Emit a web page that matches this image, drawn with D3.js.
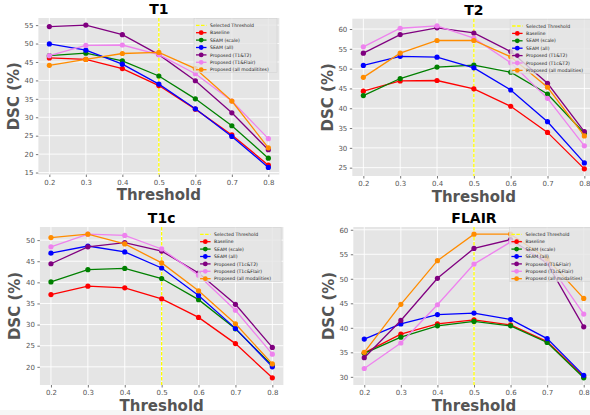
<!DOCTYPE html>
<html>
<head>
<meta charset="utf-8">
<script src="https://cdn.jsdelivr.net/npm/d3@7"></script>
<style>
  html, body { margin: 0; padding: 0; background: #fff; }
  svg { display: block; font-family: "DejaVu Sans", sans-serif; }
</style>
</head>
<body>
<div id="chart"></div>
<script>
// thresholds on the x axis
const thresholds = [0.2, 0.3, 0.4, 0.5, 0.6, 0.7, 0.8];
const selected_threshold = 0.5;

// T1
const t1_baseline = [46.1, 45.7, 43.2, 38.6, 32.2, 25.2, 17.0];
const t1_seam_scale = [46.7, 47.4, 45.3, 41.2, 35.0, 27.7, 18.9];
const t1_seam_all = [49.9, 48.2, 44.4, 39.0, 32.3, 24.8, 16.4];
const t1_prop_a = [54.6, 55.0, 52.4, 47.0, 39.9, 31.2, 21.2];
const t1_prop_b = [46.7, 49.5, 49.6, 47.0, 41.8, 34.4, 24.2];
const t1_prop_all = [44.1, 45.7, 47.3, 47.6, 43.2, 34.4, 21.7];

// T2
const t2_baseline = [44.3, 46.9, 47.0, 44.9, 40.5, 33.9, 24.7];
const t2_seam_scale = [43.2, 47.5, 50.4, 50.9, 49.1, 43.6, 33.7];
const t2_seam_all = [50.8, 53.1, 52.9, 50.2, 44.6, 36.6, 26.2];
const t2_prop_a = [53.9, 58.6, 60.3, 59.0, 54.3, 46.3, 34.1];
const t2_prop_b = [55.5, 60.2, 60.8, 57.7, 51.5, 42.5, 30.5];
const t2_prop_all = [47.8, 53.9, 57.1, 57.1, 53.0, 45.3, 33.0];

// T1c
const t1c_baseline = [37.1, 39.1, 38.7, 36.1, 31.7, 25.5, 17.4];
const t1c_seam_scale = [40.1, 43.0, 43.3, 40.9, 35.9, 29.0, 20.3];
const t1c_seam_all = [46.9, 48.6, 47.2, 43.4, 36.9, 29.1, 20.0];
const t1c_prop_a = [44.4, 48.4, 49.4, 47.4, 42.2, 34.8, 24.6];
const t1c_prop_b = [48.4, 51.4, 51.1, 47.9, 41.7, 33.4, 23.0];
const t1c_prop_all = [50.6, 51.4, 49.1, 44.6, 38.0, 30.2, 20.7];

// FLAIR
const flair_baseline = [34.9, 38.7, 40.8, 41.6, 40.6, 37.2, 30.0];
const flair_seam_scale = [34.8, 38.1, 40.4, 41.3, 40.4, 37.0, 29.8];
const flair_seam_all = [37.7, 40.8, 42.7, 43.0, 41.7, 37.8, 30.3];
const flair_prop_a = [33.9, 41.5, 50.1, 56.2, 58.0, 53.2, 40.2];
const flair_prop_b = [31.7, 36.9, 44.7, 53.0, 57.5, 53.6, 42.8];
const flair_prop_all = [35.0, 44.8, 53.7, 59.1, 59.1, 54.1, 46.0];

const series_colors = ['#ff0000', '#008000', '#0000ff', '#800080', '#ee82ee', '#ff8c00'];

const panels = [
    { title: 'T1', box: { left: 38.4, right: 279.3, top: 18, bottom: 174.5 }, yticks: [15, 20, 25, 30, 35, 40, 45, 50, 55],
      labels: ['Baseline', 'SEAM (scale)', 'SEAM (all)', 'Proposed (T1&T2)', 'Proposed (T1&Flair)', 'Proposed (all modalitites)'],
      series: [t1_baseline, t1_seam_scale, t1_seam_all, t1_prop_a, t1_prop_b, t1_prop_all] },
    { title: 'T2', box: { left: 352.3, right: 595.4, top: 18.7, bottom: 176 }, yticks: [25, 30, 35, 40, 45, 50, 55, 60],
      labels: ['Baseline', 'SEAM (scale)', 'SEAM (all)', 'Proposed (T1&T2)', 'Proposed (T1c&T2)', 'Proposed (all modalities)'],
      series: [t2_baseline, t2_seam_scale, t2_seam_all, t2_prop_a, t2_prop_b, t2_prop_all] },
    { title: 'T1c', box: { left: 39.9, right: 283.4, top: 227, bottom: 385 }, yticks: [20, 25, 30, 35, 40, 45, 50],
      labels: ['Baseline', 'SEAM (scale)', 'SEAM (all)', 'Proposed (T1c&T2)', 'Proposed (T1c&Flair)', 'Proposed (all modalities)'],
      series: [t1c_baseline, t1c_seam_scale, t1c_seam_all, t1c_prop_a, t1c_prop_b, t1c_prop_all] },
    { title: 'FLAIR', box: { left: 353.3, right: 594.7, top: 227, bottom: 385 }, yticks: [30, 35, 40, 45, 50, 55, 60],
      labels: ['Baseline', 'SEAM (scale)', 'SEAM (all)', 'Proposed (T1&Flair)', 'Proposed (T1c&Flair)', 'Proposed (all modalities)'],
      series: [flair_baseline, flair_seam_scale, flair_seam_all, flair_prop_a, flair_prop_b, flair_prop_all] }
];

var svg = d3.select('#chart')
    .append('svg')
    .attr('width', 590)
    .attr('height', 415);

svg.append('rect').attr('width', 590).attr('height', 415).attr('fill', '#fff');
// faint strip at the very bottom of the figure
svg.append('rect').attr('x', 0).attr('y', 410).attr('width', 590).attr('height', 5).attr('fill', '#f6f6f6');

function draw_panel(p) {
    const b = p.box;
    const g = svg.append('g');

    // matplotlib style 5% padding around the data
    const all = p.series.flat();
    const lo = d3.min(all), hi = d3.max(all), pad = (hi - lo) * 0.05;

    var x = d3.scaleLinear().domain([0.17, 0.83]).range([b.left, b.right]);
    var y = d3.scaleLinear().domain([lo - pad, hi + pad]).range([b.bottom, b.top]);

    g.append('rect')
        .attr('x', b.left).attr('y', b.top)
        .attr('width', b.right - b.left).attr('height', b.bottom - b.top)
        .attr('fill', '#e5e5e5');

    // grid
    const xAxis = g.append('g')
        .attr('transform', 'translate(0,' + b.bottom + ')')
        .call(d3.axisBottom(x).tickValues(thresholds).tickFormat(d3.format('.1f')).tickSize(2.5).tickPadding(3));
    const yAxis = g.append('g')
        .attr('transform', 'translate(' + b.left + ',0)')
        .call(d3.axisLeft(y).tickValues(p.yticks).tickSize(2.5).tickPadding(2.5));
    [xAxis, yAxis].forEach(function (a) {
        a.select('.domain').remove();
        a.selectAll('line').attr('stroke', '#555').attr('stroke-width', 0.8);
        a.selectAll('text').attr('fill', '#555').style('font-size', '7px').style('font-family', '"DejaVu Sans", sans-serif');
    });

    g.append('g').selectAll('line').data(thresholds).enter().append('line')
        .attr('x1', d => x(d)).attr('x2', d => x(d))
        .attr('y1', b.top).attr('y2', b.bottom)
        .attr('stroke', '#fff').attr('stroke-width', 0.9);
    g.append('g').selectAll('line').data(p.yticks).enter().append('line')
        .attr('x1', b.left).attr('x2', b.right)
        .attr('y1', d => y(d)).attr('y2', d => y(d))
        .attr('stroke', '#fff').attr('stroke-width', 0.9);

    // selected threshold
    g.append('line')
        .attr('x1', x(selected_threshold)).attr('x2', x(selected_threshold))
        .attr('y1', b.top).attr('y2', b.bottom)
        .attr('stroke', '#ffff00').attr('stroke-width', 1.3)
        .attr('stroke-dasharray', '3.5,1.5');

    var line = d3.line()
        .x((d, i) => x(thresholds[i]))
        .y(d => y(d));

    p.series.forEach(function (s, k) {
        g.append('path')
            .datum(s)
            .attr('d', line)
            .attr('fill', 'none')
            .attr('stroke', series_colors[k])
            .attr('stroke-width', 1.3);
        g.append('g').selectAll('circle').data(s).enter().append('circle')
            .attr('cx', (d, i) => x(thresholds[i]))
            .attr('cy', d => y(d))
            .attr('r', 2.6)
            .attr('fill', series_colors[k]);
    });

    // legend
    const lw = 83, lh = 54;
    const lx = b.right - 2.3 - lw, ly = b.top + 0.5;
    const leg = g.append('g').attr('transform', 'translate(' + lx + ',' + ly + ')');
    leg.append('rect')
        .attr('width', lw).attr('height', lh)
        .attr('fill', '#e5e5e5').attr('fill-opacity', 0.8)
        .attr('stroke', '#cfcfcf').attr('stroke-width', 0.5);
    const entries = ['Selected Threshold'].concat(p.labels);
    entries.forEach(function (lab, i) {
        const cy = 6.8 + i * 7.4;
        if (i == 0) {
            leg.append('line')
                .attr('x1', 2).attr('x2', 12.5).attr('y1', cy).attr('y2', cy)
                .attr('stroke', '#ffff00').attr('stroke-width', 1.3)
                .attr('stroke-dasharray', '3.5,1.5');
        } else {
            leg.append('line')
                .attr('x1', 2).attr('x2', 12.5).attr('y1', cy).attr('y2', cy)
                .attr('stroke', series_colors[i - 1]).attr('stroke-width', 1.3);
            leg.append('circle')
                .attr('cx', 7.2).attr('cy', cy).attr('r', 2.4)
                .attr('fill', series_colors[i - 1]);
        }
        leg.append('text')
            .attr('x', 16).attr('y', cy + 1.6)
            .attr('fill', '#222')
            .style('font-size', '4.6px')
            .text(lab);
    });

    // titles
    g.append('text')
        .attr('x', (b.left + b.right) / 2).attr('y', b.top - 4)
        .attr('text-anchor', 'middle')
        .style('font-size', '14px').style('font-weight', 'bold')
        .attr('fill', '#000')
        .text(p.title);
    g.append('text')
        .attr('x', (b.left + b.right) / 2).attr('y', b.bottom + 25.5)
        .attr('text-anchor', 'middle')
        .style('font-size', '15px').style('font-weight', 'bold')
        .attr('fill', '#555')
        .text('Threshold');
    g.append('text')
        .attr('transform', 'translate(' + (b.left - 19.5) + ',' + ((b.top + b.bottom) / 2) + ') rotate(-90)')
        .attr('text-anchor', 'middle')
        .style('font-size', '15px').style('font-weight', 'bold')
        .attr('fill', '#555')
        .text('DSC (%)');
}

panels.forEach(draw_panel);
</script>
</body>
</html>
